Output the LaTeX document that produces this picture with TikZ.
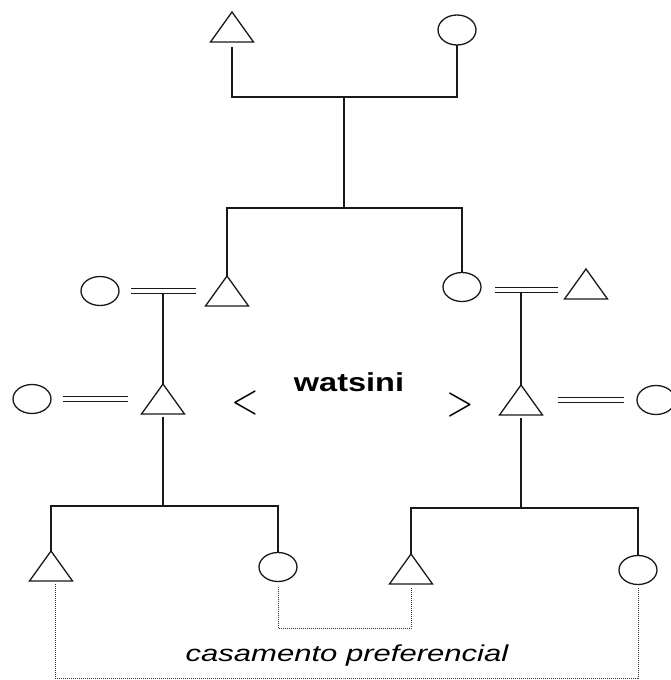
\documentclass[tikz,border=0pt]{standalone}
\usepackage{fontspec}
\setmainfont{Liberation Sans}
\usetikzlibrary{shapes.geometric}
\begin{document}
\begin{tikzpicture}[x=1pt,y=-1pt,
  kin/.style={line width=1.7pt, draw=black!90},
  outline/.style={line width=1.3pt, draw=black!90},
  female/.style={ellipse, draw, outline, minimum width=38pt, minimum height=29pt, inner sep=0pt, outer sep=0pt},
  male/.style={rectangle, minimum width=43pt, minimum height=30pt, inner sep=0pt, outer sep=0pt},
  marry/.style={double=white, double distance=3.7pt, line width=1.4pt, draw=black!90},
  pref/.style={line width=1pt, dash pattern=on 1pt off 1pt, draw=black!80},
  sign/.style={inner sep=0pt},
]
\useasboundingbox (0,0) rectangle (670,680);
\fill[white] (0,0) rectangle (670,680);

% parents
\node[male]   (tA)  at (232,27)  {};
\node[female, minimum height=30pt] (cA) at (457,30) {};
% second generation and spouses
\node[female] (c2)  at (100,291) {};
\node[male]   (t2)  at (227,291) {};
\node[female] (c2r) at (462,287) {};
\node[male]   (t2r) at (586,284) {};
% third generation and spouses
\node[female] (c3)  at (32,399)  {};
\node[male]   (t3)  at (163,399) {};
\node[male]   (t3r) at (521,400) {};
\node[female] (c3r) at (656,400) {};
% cousins
\node[male]   (t4)  at (51,566)  {};
\node[female] (c4)  at (278,567) {};
\node[male]   (t4r) at (411,569) {};
\node[female] (c4r) at (638,570) {};

% triangles for the male nodes
\foreach \n in {tA,t2,t2r,t3,t3r,t4,t4r}
  \draw[outline, line join=miter] (\n.south west) -- (\n.north) -- (\n.south east) -- cycle;

% sibling bars
\coordinate (bar1) at (344,97);
\coordinate (bar2) at (344,208);
\coordinate (bar3) at (163,506);
\coordinate (bar4) at (521,508);
\draw[kin] ([yshift=-5pt]tA.south) |- (bar1) -| (cA.south);
\draw[kin] (bar1) -- (bar2);
\draw[kin] (t2.north) |- (bar2) -| (c2r.north);
\draw[kin] ([yshift=-3pt]t3.south) -- (bar3);
\draw[kin] (t4.north) |- (bar3) -| (c4.north);
\draw[kin] ([yshift=-3pt]t3r.south) -- (bar4);
\draw[kin] (t4r.north) |- (bar4) -| (c4r.north);

% marriages
\draw[marry, shorten <=12pt, shorten >=10pt] (c2.east) -- (t2.west);
\draw[marry] ([xshift=14pt,yshift=-3pt]c2r.east) -- ([xshift=-6.5pt,yshift=-3pt]c2r.east -| t2r.west);
\draw[marry, shorten <=12pt, shorten >=13.5pt] (c3.east) -- (t3.west);
\draw[marry, shorten <=15.5pt, shorten >=13pt] (t3r.east) -- (c3r.west);
\draw[kin] (t3.north) -- ([yshift=-2.5pt]t3.north |- c2.center);
\draw[kin] (t3r.north) -- ([yshift=-5.5pt]t3r.north |- c2r.center);

% labels
\node (w) at (349,382) {\scalebox{1.25}[1]{\fontsize{26}{26}\selectfont\bfseries watsini}};
\node[sign] (lt) at (245,403) {\scalebox{3.5}[4.2]{$<$}};
\node[sign] (gt) at (460,405) {\scalebox{3.5}[4.2]{$>$}};

% preferential marriage
\coordinate (low1) at (344,628);
\coordinate (low2) at (344,678);
\draw[pref] ([yshift=-5pt]c4.south) |- (low1) -| ([yshift=-4pt]t4r.south);
\draw[pref] ([xshift=4pt,yshift=-3pt]t4.south) |- (low2) -| ([yshift=-3pt]c4r.south);
\node (cp) at (347,656) {\scalebox{1.35}[1]{\fontsize{23}{23}\selectfont\itshape casamento preferencial}};
\end{tikzpicture}
\end{document}
